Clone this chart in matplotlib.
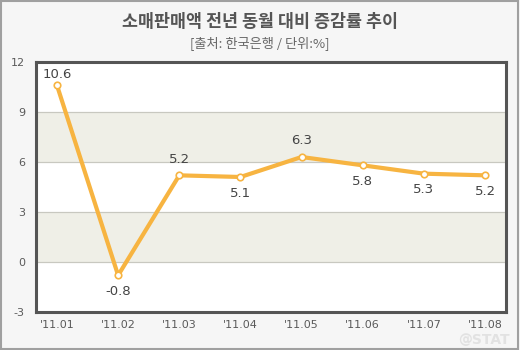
import matplotlib
matplotlib.use("Agg")
import matplotlib.pyplot as plt
from matplotlib.patches import Rectangle

plt.rcParams['font.family'] = ['Noto Sans CJK KR', 'DejaVu Sans']

months = ["'11.01", "'11.02", "'11.03", "'11.04", "'11.05", "'11.06", "'11.07", "'11.08"]
values = [10.6, -0.8, 5.2, 5.1, 6.3, 5.8, 5.3, 5.2]
label_pos = ['above', 'below', 'above', 'below', 'above', 'below', 'below', 'below']
yticks = [-3, 0, 3, 6, 9, 12]
bands = [(0, 3), (6, 9)]

title = "소매판매액 전년 동월 대비 증감률 추이"
subtitle = "[출처: 한국은행 / 단위:%]"

fig = plt.figure(figsize=(5.2, 3.5), dpi=100)
fig.patch.set_facecolor('#f6f6f6')
fig.patches.append(Rectangle((0.002, 0.003), 0.994, 0.993, transform=fig.transFigure,
                             fill=False, edgecolor='#a0a0a0', linewidth=1.5))

W, H = 520, 350
left, right, top, bottom = 36, 506, 62, 312
ax = fig.add_axes([left / W, 1 - bottom / H, (right - left) / W, (bottom - top) / H])
ax.set_facecolor('white')

x = list(range(len(months)))
ax.set_xlim(-0.343, len(months) - 1 + 0.343)
ax.set_ylim(-3, 12)

for lo, hi in bands:
    ax.axhspan(lo, hi, color='#efefe7', zorder=0, linewidth=0)
for t in [0, 3, 6, 9]:
    ax.axhline(t, color='#c8c8c0', linewidth=0.9, zorder=1)

ax.plot(x, values, color='#f7b441', linewidth=3.0, zorder=3, solid_joinstyle='round')
ax.scatter(x, values, s=22, facecolor='white', edgecolor='#f7b441', linewidth=1.2, zorder=4)

for i, (xi, v, pos) in enumerate(zip(x, values, label_pos)):
    if pos == 'above':
        off = 3 if i == 0 else 7
        ax.annotate(f"{v:g}", (xi, v), xytext=(0, off), textcoords='offset points',
                    ha='center', va='bottom', fontsize=9.5, color='#444444', family='DejaVu Sans')
    else:
        ax.annotate(f"{v:g}", (xi, v), xytext=(0, -7), textcoords='offset points',
                    ha='center', va='top', fontsize=9.5, color='#444444', family='DejaVu Sans')

ax.set_yticks(yticks)
ax.set_yticklabels([str(t) for t in yticks], fontsize=8, color='#5a5a5a', family='DejaVu Sans')
ax.set_xticks(x)
ax.set_xticklabels(months, fontsize=8, color='#5a5a5a', family='DejaVu Sans')
ax.tick_params(length=0, pad=6)
ax.tick_params(axis='y', pad=8)
for s in ax.spines.values():
    s.set_color('#555555')
    s.set_linewidth(2.2)

fig.text(0.5, 1 - 22 / H, title, ha='center', va='center', fontsize=12.5, fontweight='bold', color='#555555')
fig.text(0.5, 1 - 43 / H, subtitle, ha='center', va='center', fontsize=9.5, color='#666666')
fig.text(1 - 36 / W, 1 - 340 / H, "@STAT", ha='center', va='center', fontsize=10, fontweight='bold',
         color='#e2e2e2', family='DejaVu Sans')

fig.savefig('out.png', dpi=100, facecolor=fig.get_facecolor())
